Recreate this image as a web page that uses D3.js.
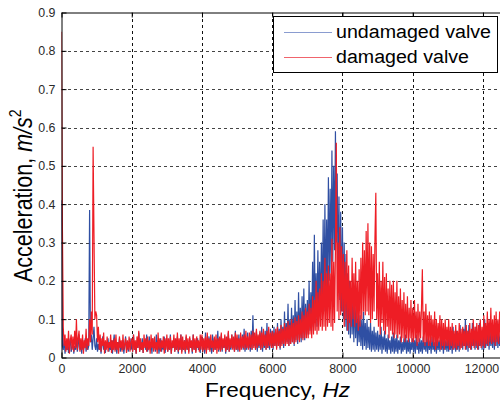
<!DOCTYPE html>
<html>
<head>
<meta charset="utf-8">
<script src="https://cdn.jsdelivr.net/npm/d3@7"></script>
<style>
  body { margin: 0; background: #fff; }
  svg { display: block; font-family: "Liberation Sans", Arial, sans-serif; }
</style>
</head>
<body>
<div id="chart"></div>
<script>
"use strict";

// spectrum samples, one every 25 Hz from 0 to 12500 Hz (one row = 500 Hz)
const freqStep = 25;

const undamaged = [
  0.41, 0.03, 0.02, 0.05, 0.01, 0.035, 0.02, 0.04, 0.012, 0.03, 0.05, 0.015, 0.025, 0.045, 0.01, 0.03, 0.02, 0.055, 0.015, 0.03,
  0.06, 0.02, 0.035, 0.01, 0.045, 0.02, 0.03, 0.05, 0.015, 0.04, 0.02, 0.03, 0.385, 0.04, 0.06, 0.02, 0.05, 0.08, 0.03, 0.02,
  0.05, 0.015, 0.035, 0.02, 0.045, 0.01, 0.03, 0.055, 0.02, 0.035, 0.012, 0.04, 0.025, 0.05, 0.015, 0.03, 0.02, 0.045, 0.01, 0.035,
  0.06, 0.02, 0.03, 0.01, 0.04, 0.025, 0.05, 0.015, 0.035, 0.02, 0.045, 0.01, 0.03, 0.055, 0.02, 0.04, 0.015, 0.03, 0.05, 0.02,
  0.04, 0.015, 0.06, 0.02, 0.035, 0.01, 0.045, 0.025, 0.065, 0.015, 0.04, 0.02, 0.05, 0.012, 0.035, 0.045, 0.02, 0.06, 0.015, 0.03,
  0.055, 0.02, 0.04, 0.01, 0.05, 0.025, 0.035, 0.015, 0.06, 0.02, 0.045, 0.01, 0.03, 0.05, 0.015, 0.04, 0.02, 0.055, 0.012, 0.035,
  0.05, 0.015, 0.04, 0.02, 0.06, 0.01, 0.035, 0.025, 0.05, 0.015, 0.045, 0.02, 0.055, 0.01, 0.04, 0.02, 0.06, 0.015, 0.035, 0.02,
  0.045, 0.01, 0.055, 0.02, 0.035, 0.015, 0.05, 0.025, 0.04, 0.01, 0.06, 0.02, 0.045, 0.015, 0.035, 0.05, 0.02, 0.04, 0.012, 0.055,
  0.05, 0.02, 0.04, 0.01, 0.065, 0.015, 0.045, 0.025, 0.055, 0.02, 0.04, 0.01, 0.06, 0.015, 0.05, 0.02, 0.045, 0.025, 0.07, 0.015,
  0.05, 0.02, 0.06, 0.015, 0.04, 0.025, 0.055, 0.01, 0.045, 0.02, 0.065, 0.015, 0.04, 0.02, 0.06, 0.025, 0.05, 0.015, 0.07, 0.02,
  0.05, 0.015, 0.06, 0.02, 0.045, 0.025, 0.06, 0.02, 0.075, 0.015, 0.05, 0.02, 0.065, 0.025, 0.05, 0.015, 0.07, 0.02, 0.11, 0.03,
  0.055, 0.02, 0.07, 0.015, 0.055, 0.025, 0.065, 0.02, 0.08, 0.015, 0.06, 0.025, 0.07, 0.02, 0.09, 0.025, 0.06, 0.02, 0.075, 0.03,
  0.07, 0.02, 0.08, 0.03, 0.065, 0.025, 0.09, 0.03, 0.075, 0.02, 0.1, 0.035, 0.08, 0.025, 0.12, 0.03, 0.09, 0.04, 0.14, 0.03,
  0.1, 0.035, 0.13, 0.04, 0.11, 0.03, 0.15, 0.045, 0.12, 0.035, 0.17, 0.05, 0.13, 0.04, 0.16, 0.05, 0.18, 0.045, 0.14, 0.06,
  0.15, 0.06, 0.2, 0.07, 0.17, 0.08, 0.25, 0.07, 0.32, 0.1, 0.22, 0.08, 0.28, 0.12, 0.25, 0.1, 0.3, 0.13, 0.36, 0.12,
  0.4, 0.15, 0.36, 0.18, 0.47, 0.2, 0.44, 0.22, 0.54, 0.25, 0.5, 0.28, 0.59, 0.3, 0.48, 0.2, 0.42, 0.15, 0.38, 0.12,
  0.34, 0.1, 0.3, 0.08, 0.27, 0.07, 0.22, 0.06, 0.2, 0.05, 0.18, 0.06, 0.15, 0.04, 0.17, 0.05, 0.13, 0.03, 0.12, 0.04,
  0.11, 0.03, 0.1, 0.02, 0.12, 0.03, 0.09, 0.02, 0.1, 0.025, 0.08, 0.02, 0.09, 0.015, 0.07, 0.02, 0.08, 0.015, 0.065, 0.02,
  0.07, 0.015, 0.06, 0.02, 0.08, 0.01, 0.055, 0.02, 0.07, 0.015, 0.05, 0.01, 0.06, 0.02, 0.045, 0.01, 0.055, 0.015, 0.065, 0.01,
  0.05, 0.015, 0.06, 0.01, 0.045, 0.02, 0.055, 0.01, 0.04, 0.015, 0.05, 0.02, 0.06, 0.01, 0.045, 0.015, 0.05, 0.01, 0.04, 0.02,
  0.05, 0.015, 0.045, 0.01, 0.06, 0.02, 0.04, 0.01, 0.05, 0.015, 0.045, 0.01, 0.055, 0.02, 0.04, 0.015, 0.06, 0.01, 0.05, 0.02,
  0.045, 0.01, 0.055, 0.02, 0.04, 0.015, 0.06, 0.01, 0.05, 0.02, 0.045, 0.015, 0.065, 0.02, 0.05, 0.01, 0.055, 0.02, 0.045, 0.015,
  0.05, 0.015, 0.065, 0.02, 0.05, 0.01, 0.08, 0.02, 0.06, 0.015, 0.07, 0.02, 0.055, 0.015, 0.085, 0.025, 0.06, 0.02, 0.075, 0.03,
  0.1, 0.02, 0.07, 0.015, 0.085, 0.025, 0.06, 0.02, 0.09, 0.03, 0.07, 0.02, 0.08, 0.025, 0.065, 0.02, 0.09, 0.03, 0.07, 0.02,
  0.07, 0.02, 0.1, 0.025, 0.06, 0.03, 0.09, 0.02, 0.075, 0.03, 0.06, 0.025, 0.085, 0.02, 0.07, 0.03, 0.095, 0.025, 0.065, 0.03,
  0.06
];

const damaged = [
  0.85, 0.35, 0.08, 0.03, 0.06, 0.015, 0.05, 0.02, 0.07, 0.01, 0.045, 0.06, 0.02, 0.055, 0.015, 0.07, 0.025, 0.1, 0.02, 0.05,
  0.07, 0.015, 0.05, 0.02, 0.06, 0.01, 0.045, 0.025, 0.075, 0.02, 0.05, 0.03, 0.1, 0.04, 0.12, 0.06, 0.55, 0.32, 0.1, 0.12,
  0.11, 0.04, 0.08, 0.02, 0.06, 0.015, 0.05, 0.03, 0.065, 0.01, 0.045, 0.02, 0.055, 0.015, 0.04, 0.025, 0.06, 0.012, 0.045, 0.02,
  0.05, 0.015, 0.06, 0.02, 0.04, 0.01, 0.055, 0.025, 0.045, 0.015, 0.06, 0.02, 0.035, 0.05, 0.012, 0.045, 0.02, 0.055, 0.015, 0.04,
  0.05, 0.015, 0.06, 0.02, 0.045, 0.01, 0.055, 0.025, 0.07, 0.015, 0.05, 0.02, 0.04, 0.012, 0.06, 0.025, 0.05, 0.015, 0.055, 0.02,
  0.045, 0.01, 0.06, 0.025, 0.05, 0.015, 0.055, 0.02, 0.04, 0.01, 0.065, 0.02, 0.05, 0.015, 0.045, 0.025, 0.055, 0.01, 0.05, 0.02,
  0.06, 0.015, 0.05, 0.02, 0.055, 0.01, 0.045, 0.025, 0.06, 0.015, 0.05, 0.02, 0.065, 0.015, 0.05, 0.02, 0.06, 0.01, 0.055, 0.02,
  0.045, 0.015, 0.06, 0.02, 0.05, 0.01, 0.055, 0.025, 0.045, 0.015, 0.06, 0.02, 0.05, 0.012, 0.055, 0.025, 0.045, 0.015, 0.06, 0.02,
  0.06, 0.015, 0.05, 0.02, 0.055, 0.01, 0.065, 0.02, 0.05, 0.015, 0.06, 0.025, 0.045, 0.015, 0.055, 0.02, 0.06, 0.01, 0.05, 0.02,
  0.055, 0.015, 0.065, 0.02, 0.05, 0.025, 0.06, 0.015, 0.055, 0.02, 0.07, 0.015, 0.05, 0.025, 0.06, 0.02, 0.055, 0.015, 0.065, 0.02,
  0.06, 0.02, 0.05, 0.015, 0.065, 0.02, 0.055, 0.025, 0.06, 0.02, 0.07, 0.025, 0.055, 0.02, 0.065, 0.025, 0.06, 0.02, 0.07, 0.025,
  0.065, 0.02, 0.075, 0.025, 0.06, 0.03, 0.07, 0.02, 0.065, 0.025, 0.075, 0.03, 0.06, 0.02, 0.07, 0.025, 0.08, 0.03, 0.065, 0.025,
  0.07, 0.025, 0.065, 0.03, 0.075, 0.02, 0.08, 0.03, 0.07, 0.025, 0.085, 0.03, 0.075, 0.035, 0.09, 0.03, 0.08, 0.035, 0.095, 0.03,
  0.085, 0.035, 0.1, 0.04, 0.09, 0.035, 0.105, 0.04, 0.095, 0.045, 0.11, 0.04, 0.1, 0.05, 0.12, 0.045, 0.11, 0.05, 0.13, 0.05,
  0.12, 0.05, 0.14, 0.06, 0.13, 0.05, 0.16, 0.06, 0.15, 0.07, 0.2, 0.06, 0.17, 0.07, 0.18, 0.08, 0.22, 0.07, 0.2, 0.08,
  0.26, 0.07, 0.22, 0.08, 0.24, 0.09, 0.22, 0.08, 0.31, 0.07, 0.25, 0.09, 0.28, 0.56, 0.12, 0.3, 0.1, 0.34, 0.11, 0.29,
  0.12, 0.27, 0.08, 0.25, 0.1, 0.28, 0.07, 0.24, 0.09, 0.2, 0.08, 0.26, 0.1, 0.22, 0.08, 0.25, 0.09, 0.2, 0.07, 0.23,
  0.08, 0.26, 0.1, 0.3, 0.12, 0.28, 0.11, 0.33, 0.12, 0.35, 0.11, 0.3, 0.09, 0.29, 0.1, 0.27, 0.12, 0.31, 0.43, 0.1,
  0.22, 0.08, 0.25, 0.06, 0.2, 0.09, 0.25, 0.07, 0.21, 0.06, 0.22, 0.08, 0.18, 0.05, 0.2, 0.07, 0.19, 0.06, 0.2, 0.05,
  0.17, 0.06, 0.2, 0.05, 0.16, 0.06, 0.18, 0.04, 0.15, 0.05, 0.17, 0.04, 0.14, 0.05, 0.16, 0.04, 0.13, 0.05, 0.15, 0.04,
  0.13, 0.04, 0.15, 0.05, 0.12, 0.03, 0.14, 0.04, 0.12, 0.05, 0.13, 0.23, 0.04, 0.12, 0.03, 0.14, 0.04, 0.11, 0.03, 0.12,
  0.03, 0.11, 0.04, 0.1, 0.03, 0.12, 0.02, 0.1, 0.03, 0.09, 0.04, 0.11, 0.02, 0.1, 0.03, 0.09, 0.02, 0.1, 0.03, 0.08,
  0.03, 0.1, 0.02, 0.08, 0.03, 0.09, 0.02, 0.07, 0.025, 0.085, 0.02, 0.07, 0.03, 0.09, 0.02, 0.075, 0.025, 0.08, 0.03, 0.07,
  0.02, 0.085, 0.03, 0.07, 0.025, 0.09, 0.02, 0.075, 0.03, 0.1, 0.025, 0.08, 0.03, 0.09, 0.02, 0.085, 0.03, 0.1, 0.025, 0.08,
  0.03, 0.11, 0.025, 0.09, 0.035, 0.12, 0.03, 0.1, 0.04, 0.13, 0.035, 0.1, 0.04, 0.11, 0.03, 0.12, 0.04, 0.1, 0.035, 0.12,
  0.05
];

const xTicks = [0, 2000, 4000, 6000, 8000, 10000, 12000];
const yTicks = [0, 0.1, 0.2, 0.3, 0.4, 0.5, 0.6, 0.7, 0.8, 0.9];
const seriesNames = ["undamaged valve", "damaged valve"];
const seriesColors = ["#2f4fa3", "#ee1d25"];
const legendColors = ["#8a9cd0", "#f0646c"];

const width = 500, height = 400;
const plotLeft = 61.5, plotRight = 500.5, plotTop = 12.5, plotBottom = 357.5;

const svg = d3.select("#chart").append("svg")
  .attr("width", width)
  .attr("height", height);

const x = d3.scaleLinear().domain([0, 12500]).range([plotLeft, plotRight]);
const y = d3.scaleLinear().domain([0, 0.9]).range([plotBottom, plotTop]);

svg.append("clipPath").attr("id", "plot")
  .append("rect")
  .attr("x", plotLeft).attr("y", plotTop)
  .attr("width", plotRight - plotLeft).attr("height", plotBottom - plotTop);

// grid (under the data, like matlab)
const grid = svg.append("g")
  .attr("stroke", "#111")
  .attr("stroke-dasharray", "3,3")
  .attr("shape-rendering", "crispEdges");
grid.selectAll(".gx")
  .data(xTicks.filter(d => d > 0))
  .enter().append("line")
  .attr("x1", d => Math.round(x(d)) + 0.5).attr("x2", d => Math.round(x(d)) + 0.5)
  .attr("y1", plotTop).attr("y2", plotBottom);
grid.selectAll(".gy")
  .data(yTicks.filter(d => d > 0 && d < 0.9))
  .enter().append("line")
  .attr("x1", plotLeft).attr("x2", plotRight)
  .attr("y1", d => Math.round(y(d)) + 0.5).attr("y2", d => Math.round(y(d)) + 0.5)
  .attr("stroke", "#444");

// spectra
const line = d3.line()
  .x((d, i) => x(i * freqStep))
  .y(d => y(d));

const plot = svg.append("g").attr("clip-path", "url(#plot)");
[undamaged, damaged].forEach((series, k) => {
  plot.append("path")
    .datum(series)
    .attr("fill", "none")
    .attr("stroke", seriesColors[k])
    .attr("stroke-width", 1.2)
    .attr("d", line);
});

// axes, ticks pointing inwards
const xAxis = svg.append("g")
  .attr("transform", `translate(0,${plotBottom})`)
  .call(d3.axisBottom(x).tickValues(xTicks).tickSizeInner(-5).tickSizeOuter(0).tickPadding(7)
    .tickFormat(d3.format("d")));
const yAxis = svg.append("g")
  .attr("transform", `translate(${plotLeft},0)`)
  .call(d3.axisLeft(y).tickValues(yTicks).tickSizeInner(-5).tickSizeOuter(0).tickPadding(6)
    .tickFormat(d => d === 0 ? "0" : d3.format(".1f")(d)));
svg.append("g")
  .attr("transform", `translate(0,${plotTop})`)
  .call(d3.axisTop(x).tickValues(xTicks).tickSizeInner(-5).tickSizeOuter(0).tickFormat(""));

svg.selectAll(".domain").attr("stroke", "#000");
svg.selectAll(".tick line").attr("stroke", "#000");
[xAxis, yAxis].forEach(a => {
  a.selectAll("text")
    .attr("font-size", 12.4)
    .attr("fill", "#2a2a2a")
    .style("font-family", "'Liberation Sans', Arial, sans-serif");
});
// last x label sits on the window edge, pull it in a little
xAxis.selectAll(".tick text").filter(d => d === 12000).attr("dx", -1.5);

// axis labels
const xl = svg.append("text")
  .attr("x", 205).attr("y", 396.5)
  .attr("font-size", 20)
  .attr("textLength", 145)
  .attr("lengthAdjust", "spacingAndGlyphs");
xl.append("tspan").text("Frequency, ");
xl.append("tspan").attr("font-style", "italic").text("Hz");

const yl = svg.append("text")
  .attr("transform", "translate(32,282) scale(1.18,1) rotate(-90)")
  .attr("font-size", 21.5);
yl.append("tspan").text("Acceleration, ");
yl.append("tspan").attr("font-style", "italic").text("m/s");
yl.append("tspan").attr("font-size", 14).attr("dy", -9).text("2");

// legend
const legend = svg.append("g");
legend.append("rect")
  .attr("x", 273.5).attr("y", 16.5)
  .attr("width", 224).attr("height", 56)
  .attr("fill", "#fff")
  .attr("stroke", "#000");
seriesNames.forEach((name, k) => {
  const ly = 32 + k * 25;
  legend.append("line")
    .attr("x1", 284).attr("x2", 332)
    .attr("y1", ly + 0.5).attr("y2", ly + 0.5)
    .attr("stroke", legendColors[k]);
  legend.append("text")
    .attr("x", 336).attr("y", ly + 5.5)
    .attr("font-size", 18)
    .attr("textLength", k === 0 ? 155 : 133)
    .attr("lengthAdjust", "spacingAndGlyphs")
    .attr("fill", "#000")
    .text(name);
});
</script>
</body>
</html>
